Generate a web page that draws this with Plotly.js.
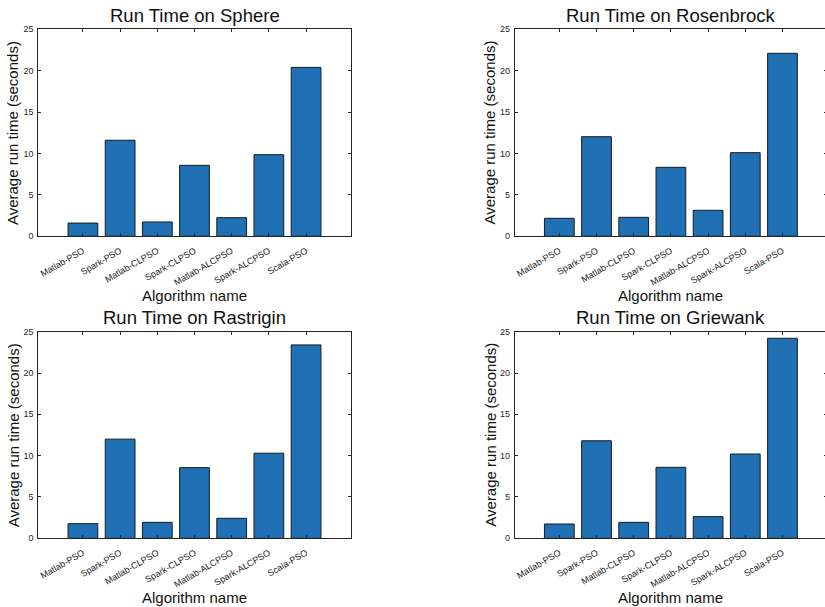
<!DOCTYPE html>
<html>
<head>
<meta charset="utf-8">
<script src="https://cdn.plot.ly/plotly-3.0.1.min.js"></script>
<style>
html, body { margin: 0; padding: 0; overflow: hidden; background: #fff; }
#chart { width: 828px; height: 607px; }
</style>
</head>
<body>
<div id="chart"></div>
<script>
const algorithms = ["Matlab-PSO", "Spark-PSO", "Matlab-CLPSO", "Spark-CLPSO", "Matlab-ALCPSO", "Spark-ALCPSO", "Scala-PSO"];
const sphere = [1.6, 11.6, 1.73, 8.57, 2.25, 9.86, 20.4];
const rosenbrock = [2.17, 12.03, 2.29, 8.33, 3.14, 10.1, 22.1];
const rastrigin = [1.77, 12.0, 1.93, 8.55, 2.42, 10.3, 23.4];
const griewank = [1.73, 11.8, 1.93, 8.59, 2.62, 10.2, 24.2];
const titles = ["Run Time on Sphere", "Run Time on Rosenbrock", "Run Time on Rastrigin", "Run Time on Griewank"];
const yTickVals = [0, 5, 10, 15, 20, 25];
const yTickText = ["0", "5", "10", "15", "20", "25"];
const xTitle = "Algorithm name";
const yTitle = "Average run time (seconds)";

const W = 828, H = 607;
const barColor = "#1f70b5";
const axisColor = "#262626";
const fontFam = "Liberation Sans, Arial, Helvetica, sans-serif";

// pixel boxes of each subplot: [left, right, top, bottom]
const boxes = [
  [38.3, 350.7, 29.3, 236.3],
  [514.7, 827.1, 29.3, 236.3],
  [38.3, 350.7, 331.7, 538.3],
  [514.7, 827.1, 331.7, 538.3]
];
const series = [sphere, rosenbrock, rastrigin, griewank];

const data = [];
const layout = {
  width: W, height: H,
  margin: {l: 0, r: 0, t: 0, b: 0, pad: 0},
  paper_bgcolor: "#fff", plot_bgcolor: "#fff",
  showlegend: false,
  font: {family: fontFam, color: axisColor},
  annotations: []
};

series.forEach((vals, i) => {
  const n = i + 1;
  const sx = n === 1 ? "" : String(n);
  data.push({
    type: "bar",
    x: algorithms,
    y: vals,
    xaxis: "x" + sx,
    yaxis: "y" + sx,
    width: 0.8,
    marker: {color: barColor, line: {color: "#1a1a1a", width: 1}},
    hoverinfo: "x+y"
  });
  const [l, r, t, b] = boxes[i];
  layout["xaxis" + sx] = {
    domain: [l / W, r / W],
    anchor: "y" + sx,
    type: "category",
    range: [-1.2, 7.2],
    showline: true, linecolor: axisColor, linewidth: 1,
    mirror: "ticks",
    ticks: "inside", ticklen: 3, tickcolor: axisColor, tickwidth: 1,
    tickangle: -30,
    ticklabelstandoff: 5,
    tickfont: {size: 9, color: axisColor, family: fontFam},
    showgrid: false, zeroline: false, fixedrange: true,
    automargin: false
  };
  layout["yaxis" + sx] = {
    domain: [(H - b) / H, (H - t) / H],
    anchor: "x" + sx,
    range: [0, 25],
    tickvals: yTickVals, ticktext: yTickText,
    showline: true, linecolor: axisColor, linewidth: 1,
    mirror: "ticks",
    ticks: "inside", ticklen: 3, tickcolor: axisColor, tickwidth: 1,
    ticklabelstandoff: 2,
    tickfont: {size: 9, color: axisColor, family: fontFam},
    showgrid: false, zeroline: false, fixedrange: true,
    automargin: false
  };
  const cx = (l + r) / 2;
  layout.annotations.push({
    text: titles[i], xref: "paper", yref: "paper",
    x: cx / W, y: (H - (t - 14)) / H,
    xanchor: "center", yanchor: "middle", showarrow: false,
    font: {size: 18.5, color: "#111", family: fontFam}
  });
  layout.annotations.push({
    text: xTitle, xref: "paper", yref: "paper",
    x: cx / W, y: (H - (b + 59)) / H,
    xanchor: "center", yanchor: "middle", showarrow: false,
    font: {size: 15, color: "#111", family: fontFam}
  });
  layout.annotations.push({
    text: yTitle, xref: "paper", yref: "paper",
    x: (l - 25) / W, y: (H - (t + b) / 2) / H,
    xanchor: "center", yanchor: "middle", showarrow: false, textangle: -90,
    font: {size: 15, color: "#111", family: fontFam}
  });
});

Plotly.newPlot("chart", data, layout, {displayModeBar: false, staticPlot: true});
</script>
</body>
</html>
